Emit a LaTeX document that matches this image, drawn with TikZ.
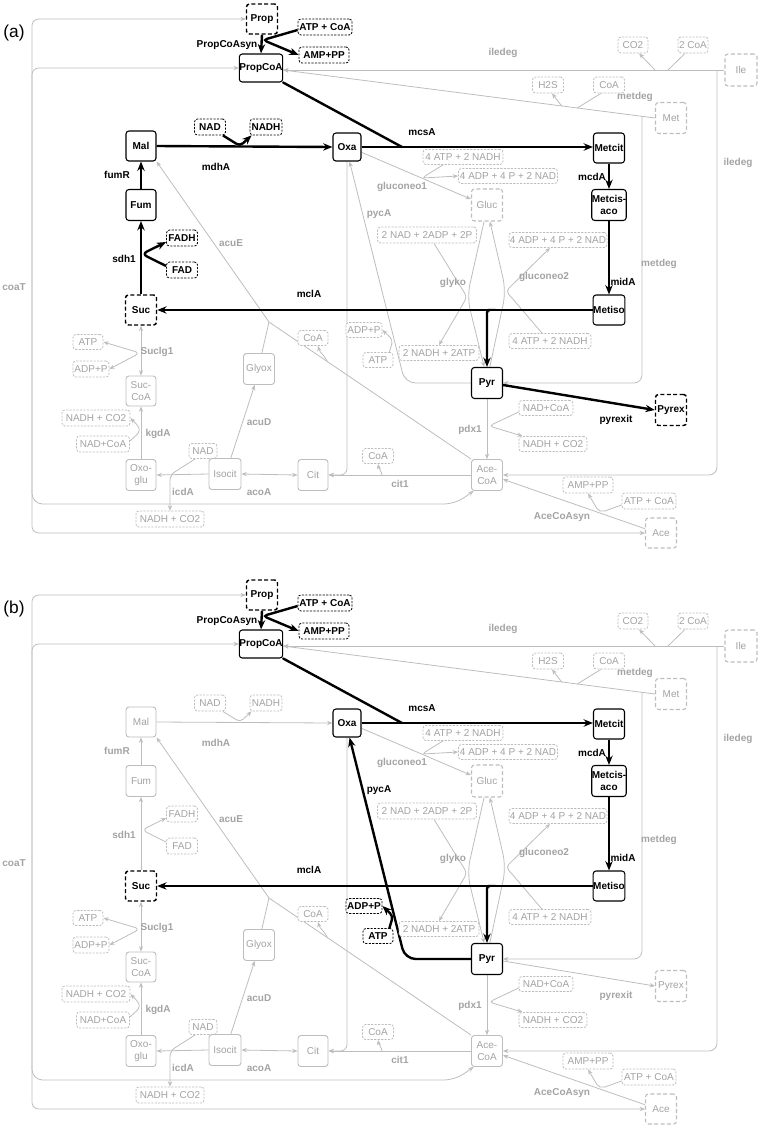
\documentclass[tikz,border=0pt]{standalone}
\usepackage{fontspec}
\setmainfont{Liberation Sans}
\usetikzlibrary{arrows.meta,calc}
\pgfdeclarelayer{bg}
\pgfsetlayers{bg,main}
\definecolor{lg}{HTML}{BDBDBD}
\definecolor{tg}{HTML}{A3A3A3}
\newcommand\myfs{\fontsize{7.5}{9}\selectfont}
\newif\ifhi
\tikzset{
 on/.code={\hitrue}, off/.code={\hifalse},
 sz/.style 2 args={minimum width=#1*0.75pt, minimum height=#2*0.75pt},
 bx/.style={rectangle, rounded corners=2.2pt, inner sep=0pt, fill=white, align=center},
 met/.code={\pgfkeysalso{bx}\ifhi\pgfkeysalso{draw=black,line width=0.8pt,text=black,font=\myfs\bfseries}\else\pgfkeysalso{draw=lg,line width=0.7pt,text=tg,font=\myfs}\fi},
 metd/.code={\pgfkeysalso{bx,dash pattern=on 3pt off 1.8pt}\ifhi\pgfkeysalso{draw=black,line width=1.1pt,text=black,font=\myfs\bfseries}\else\pgfkeysalso{draw=lg,line width=0.8pt,text=tg,font=\myfs}\fi},
 cof/.code={\pgfkeysalso{bx,dash pattern=on 1.6pt off 1pt}\ifhi\pgfkeysalso{draw=black,line width=0.6pt,text=black,font=\myfs\bfseries}\else\pgfkeysalso{draw=lg,line width=0.6pt,text=tg,font=\myfs}\fi},
 ln/.code={\ifhi\pgfkeysalso{draw=black,line width=1.8pt}\else\pgfkeysalso{draw=lg,line width=0.6pt}\fi},
 ar/.code={\ifhi\pgfkeysalso{-{Stealth[length=7pt,width=5.5pt]}}\else\pgfkeysalso{-{Stealth[length=4pt,width=3.2pt]}}\fi},
 ar2/.code={\ifhi\pgfkeysalso{{Stealth[length=7pt,width=5.5pt]}-{Stealth[length=7pt,width=5.5pt]}}\else\pgfkeysalso{{Stealth[length=4pt,width=3.2pt]}-{Stealth[length=4pt,width=3.2pt]}}\fi},
 lb/.code={\pgfkeysalso{inner sep=0pt}\ifhi\pgfkeysalso{text=black,font=\myfs\bfseries}\else\pgfkeysalso{text=tg,font=\myfs\bfseries}\fi},
}
\newcommand\drawpanel{%
% ---- nodes
\node[on,metd,sz={31}{30}] (Prop) at (262,19) {Prop};
\node[on,cof,sz={54}{16}] (PATP) at (325,27) {ATP + CoA};
\node[on,cof,sz={50}{16}] (PAMP) at (324,55) {AMP+PP};
\node[on,met,sz={41}{28}] (PropCoA) at (261,68) {PropCoA};
\node[gmdh,met,sz={30}{30}] (Mal) at (141,146) {Mal};
\node[gmdh,cof,sz={31}{16}] (NADm) at (210,127) {NAD};
\node[gmdh,cof,sz={32}{16}] (NADHm) at (266,127) {NADH};
\node[on,met,sz={28}{28}] (Oxa) at (347,147) {Oxa};
\node[on,met,sz={31}{30}] (Metcit) at (609,148) {Metcit};
\node[on,met,sz={31}{31}] (Metcis) at (609,205) {Metcis-\\aco};
\node[on,met,sz={31}{30}] (Metiso) at (609,310) {Metiso};
\node[gfum,met,sz={30}{31}] (Fum) at (141,205) {Fum};
\node[gsdh,cof,sz={31}{16}] (FADH) at (182,238) {FADH};
\node[gsdh,cof,sz={31}{16}] (FAD) at (182,270) {FAD};
\node[on,metd,sz={31}{30}] (Suc) at (141,310) {Suc};
\node[on,met,sz={31}{31}] (Pyr) at (487,383) {Pyr};
\node[gpyrex,metd,sz={31}{31}] (Pyrex) at (671,410) {Pyrex};
\node[gpyc,cof,sz={30}{15}] (ATPp) at (378,360) {ATP};
\node[gpyc,cof,sz={36}{15}] (ADPp) at (364,330) {ADP+P};
\node[off,cof,sz={30}{16}] (CO2) at (633,45) {CO2};
\node[off,cof,sz={30}{16}] (CoA2) at (693,45) {2 CoA};
\node[off,metd,sz={32}{32}] (Ile) at (741,70) {Ile};
\node[off,cof,sz={31}{16}] (H2S) at (548,85) {H2S};
\node[off,cof,sz={31}{16}] (CoAm) at (609,85) {CoA};
\node[off,metd,sz={31}{31}] (Met) at (671,118) {Met};
\node[off,cof,sz={80}{15}] (ATPg1) at (463,157) {4 ATP + 2 NADH};
\node[off,cof,sz={99}{15}] (ADPg1) at (508,176) {4 ADP + 4 P + 2 NAD};
\node[off,metd,sz={31}{32}] (Gluc) at (487,205) {Gluc};
\node[off,cof,sz={99}{16}] (NADgl) at (427,235) {2 NAD + 2ADP + 2P};
\node[off,cof,sz={98}{15}] (ADPg2) at (558,240) {4 ADP + 4 P + 2 NAD};
\node[off,cof,sz={82}{15}] (ATPg2) at (550,341) {4 ATP + 2 NADH};
\node[off,cof,sz={80}{15}] (NADHgl) at (439,353) {2 NADH + 2ATP};
\node[off,cof,sz={30}{15}] (CoAe) at (313,338) {CoA};
\node[off,cof,sz={30}{15}] (ATPs) at (88,342) {ATP};
\node[off,cof,sz={36}{16}] (ADPs) at (91,369) {ADP+P};
\node[off,met,sz={30}{30}] (SucCoA) at (141,391) {Suc-\\CoA};
\node[off,cof,sz={68}{16}] (NADHk) at (96,418) {NADH + CO2};
\node[off,cof,sz={53}{16}] (NADk) at (103,444) {NAD+CoA};
\node[off,met,sz={30}{31}] (Oxoglu) at (141,475) {Oxo-\\glu};
\node[off,cof,sz={28}{15}] (NADi) at (203,451) {NAD};
\node[off,met,sz={32}{31}] (Isocit) at (225,474) {Isocit};
\node[off,cof,sz={68}{16}] (NADHi) at (170,519) {NADH + CO2};
\node[off,met,sz={31}{31}] (Glyox) at (259,369) {Glyox};
\node[off,met,sz={30}{31}] (Cit) at (313,475) {Cit};
\node[off,cof,sz={31}{15}] (CoAc) at (378,456) {CoA};
\node[off,cof,sz={54}{15}] (NADp) at (546,408) {NAD+CoA};
\node[off,cof,sz={68}{15}] (NADHp) at (553,444) {NADH + CO2};
\node[off,met,sz={31}{31}] (AceCoA) at (487,475) {Ace-\\CoA};
\node[off,cof,sz={50}{16}] (AMPa) at (588,485) {AMP+PP};
\node[off,cof,sz={54}{16}] (ATPa) at (649,501) {ATP + CoA};
\node[off,metd,sz={31}{30}] (Ace) at (661,533) {Ace};
% ---- reaction labels
\node[on,lb] (lPCS) at (227,45) {PropCoAsyn};
\node[off,lb] (lIL1) at (503,53) {iledeg};
\node[off,lb] (lIL2) at (738,163) {iledeg};
\node[off,lb] (lMD1) at (635,97) {metdeg};
\node[off,lb] (lMD2) at (659,264) {metdeg};
\node[on,lb] (lMCS) at (422,132) {mcsA};
\node[gmdh,lb] (lMDH) at (216,167) {mdhA};
\node[gfum,lb] (lFUM) at (117,175) {fumR};
\node[off,lb] (lGN1) at (402,187) {gluconeo1};
\node[on,lb] (lMCD) at (592,177) {mcdA};
\node[gpyc,lb] (lPYC) at (379,214) {pycA};
\node[off,lb] (lACE) at (231,243) {acuE};
\node[gsdh,lb] (lSDH) at (124,259) {sdh1};
\node[off,lb] (lGN2) at (544,277) {gluconeo2};
\node[off,lb] (lGLY) at (453,283) {glyko};
\node[on,lb] (lMID) at (623,282) {midA};
\node[off,lb] (lCOT) at (14,287) {coaT};
\node[on,lb] (lMCL) at (309,294) {mclA};
\node[off,lb] (lSUC) at (157,352) {Suclg1};
\node[gpyrex,lb] (lPYX) at (616,420) {pyrexit};
\node[off,lb] (lPDX) at (470,430) {pdx1};
\node[off,lb] (lACD) at (259,422) {acuD};
\node[off,lb] (lKGD) at (158,434) {kgdA};
\node[off,lb] (lCIT) at (400,484) {cit1};
\node[off,lb] (lICD) at (183,492) {icdA};
\node[off,lb] (lACO) at (259,492) {acoA};
\node[off,lb] (lACS) at (562,517) {AceCoAsyn};
% ---- junction coordinates
\coordinate (hubT) at (32,287);
\coordinate (cT4) at (455,504);
\coordinate (jIL) at (717,70);
\coordinate (jIL2) at (668,70);
\coordinate (jIL1) at (655,70);
\coordinate (pcaR) at ($(PropCoA.east)+(0,2)$);
\coordinate (jM1) at ($(Met.west)!0.251!(pcaR)$);
\coordinate (jM2) at ($(Met.west)!0.209!(pcaR)$);
\coordinate (jM3) at ($(Met.west)!0.035!(pcaR)$);
\coordinate (jPCS) at (263,40);
\coordinate (jMCS) at (402,147);
\coordinate (jMCL) at (487,310);
\coordinate (jMDH) at (240,146);
\coordinate (jSDH) at (142,254);
\coordinate (cPYC) at (405,383);
\coordinate (jPYC) at (393,340);
\coordinate (jCIT) at (347,475);
\coordinate (jCoAc) at (382,475);
\coordinate (jPDX) at (489,426);
\coordinate (jACS) at ($(Ace.165)!0.32!(AceCoA.-15)$);
\coordinate (jACE) at (269,322);
\coordinate (jCoAe) at ($(jACE)!0.29!(AceCoA.north west)$);
\coordinate (jICD) at (170,475);
\coordinate (jKGD) at (142,430);
\coordinate (jSUC) at (140,353);
\coordinate (jGN1) at ($(Oxa.-20)!0.55!(Gluc.160)$);
\coordinate (jGLY) at (467,297);
\coordinate (jGNE) at (506,291);
% ---- connectors
\begin{pgfonlayer}{bg}
% coaT
\draw[off,ln,ar,rounded corners=5pt] (hubT) |- (Prop.west);
\draw[off,ln,ar,rounded corners=5pt] (hubT) |- (PropCoA.west);
\draw[off,ln,ar,rounded corners=5pt] (hubT) |- (Ace.west);
\draw[off,ln,ar,rounded corners=8pt] (hubT) |- (cT4) -- (AceCoA.-130);
% iledeg
\draw[off,ln,ar] (Ile.west) -- (PropCoA.east |- Ile.west);
\draw[off,ln,ar,rounded corners=6pt] (jIL) |- (AceCoA.east);
\draw[off,ln] ($(CoA2.south)+(-8,0)$) -- (jIL2);
\draw[off,ln,ar,rounded corners=3pt] (jIL1) -- ($(CO2.south)+(6,0)$);
% metdeg
\draw[off,ln,ar] (Met.west) -- (pcaR);
\draw[off,ln,ar] (jM1) -- ($(H2S.south)+(4,0)$);
\draw[off,ln] ($(CoAm.south)+(-8,0)$) -- (jM2);
\draw[off,ln,ar,rounded corners=6pt] (jM3) |- (Pyr.east);
% gluconeo1
\draw[off,ln,ar] (Oxa.-20) -- (Gluc.160);
\draw[off,ln,ar,rounded corners=3pt] ($(ATPg1.south)+(-20,0)$) -- (jGN1) -- (ADPg1.west);
% glyko
\draw[off,ln,ar,rounded corners=10pt] (Gluc.-100) -- (jGLY) -- (Pyr.100);
\draw[off,ln,ar,rounded corners=3pt] ($(NADgl.south)+(7,0)$) -- (jGLY) -- (NADHgl.north);
% gluconeo2
\draw[off,ln,ar,rounded corners=10pt] (Pyr.80) -- (jGNE) -- (Gluc.-80);
\draw[off,ln,ar,rounded corners=3pt] ($(ATPg2.north)+(-8,0)$) -- (jGNE) -- ($(ADPg2.south)+(-8,0)$);
% acuE
\draw[off,ln,ar] (AceCoA.north west) -- (jACE) -- (Mal.south east);
\draw[off,ln] (Glyox.80) -- (jACE);
\draw[off,ln,ar] (jCoAe) to[out=115,in=-75] ($(CoAe.south)+(5,0)$);
% acuD, acoA, icdA
\draw[off,ln,ar] (Isocit.70) -- (Glyox.-105);
\draw[off,ln,ar2] (Isocit.east) -- (Cit.west);
\draw[off,ln,ar] (Isocit.west) -- (Oxoglu.east);
\draw[off,ln,ar,rounded corners=4pt] (NADi.-135) -- (jICD) -- (NADHi.north);
% kgdA
\draw[off,ln,ar] (Oxoglu.north) -- (SucCoA.south);
\draw[off,ln,ar,rounded corners=5pt] ($(NADk.east)+(0,-3)$) -- (jKGD) -- (NADHk.east);
% Suclg1
\draw[off,ln,ar2] (SucCoA.north) -- (Suc.south);
\draw[off,ln,ar2,rounded corners=4pt] (ATPs.east) -- (jSUC) -- (ADPs.east);
% cit1
\draw[off,ln,ar] (AceCoA.west) -- (Cit.east);
\draw[off,ln,ar,rounded corners=5pt] (Oxa.south) -- (jCIT) -- (Cit.east);
\draw[off,ln,ar] (jCoAc) to[out=100,in=-80] (CoAc.south);
% pdx1
\draw[off,ln,ar] (Pyr.south) -- (AceCoA.north);
\draw[off,ln,ar,rounded corners=3pt] ($(NADp.west)+(0,4)$) -- (jPDX) -- ($(NADHp.north west)+(4,0)$);
% AceCoAsyn
\draw[off,ln,ar] (Ace.165) -- (AceCoA.-15);
\draw[off,ln,ar,rounded corners=4pt] ($(ATPa.west)+(0,4)$) -- (jACS) -- (AMPa.south);
% pycA
\draw[gpyc,ln,ar,rounded corners=8pt] (Pyr.west) -- (cPYC) -- (Oxa.-80);
\draw[gpyc,ln,ar,rounded corners=3pt] ($(ATPp.north east)+(-4,0)$) -- (jPYC) -- (ADPp.east);
% mdhA, fumR, sdh1, pyrexit
\draw[gmdh,ln,ar] (Mal.east) -- (Oxa.west);
\draw[gmdh,ln,ar,rounded corners=3pt] ($(NADm.south east)+(-3,0)$) -- (jMDH) -- ($(NADHm.south west)+(2,0)$);
\draw[gfum,ln,ar] (Fum.north) -- (Mal.south);
\draw[gsdh,ln,ar] (Suc.north) -- (Fum.south);
\draw[gsdh,ln,ar,rounded corners=4pt] ($(FAD.west)+(0,-4)$) -- (jSDH) -- ($(FADH.west)+(0,4)$);
\draw[gpyrex,ln,ar] ($(Pyr.east)+(0,2)$) -- (Pyrex.west);
% PropCoAsyn
\draw[on,ln,ar] (Prop.south) -- (PropCoA.north);
\draw[on,ln,ar,rounded corners=3pt] ($(PATP.west)+(0,3)$) -- (jPCS) -- (PAMP.west);
% mcsA
\draw[on,ln,ar] (Oxa.east) -- (Metcit.west |- Oxa.east);
\draw[on,ln,line cap=round] (PropCoA.south east) -- (jMCS);
% mcdA, midA
\draw[on,ln,ar] (Metcit.south) -- (Metcis.north);
\draw[on,ln,ar] (Metcis.south) -- (Metiso.north);
% mclA
\draw[on,ln,ar] (Metiso.west) -- (Suc.east);
\draw[on,ln,ar,rounded corners=2pt] ($(jMCL)+(1,0)$) -- (jMCL) -- (Pyr.north);
\end{pgfonlayer}
}
\begin{document}
\begin{tikzpicture}[x=0.75pt,y=-0.75pt]
\useasboundingbox (0,0) rectangle (761,1128);
\node[font=\fontsize{13}{15}\selectfont, inner sep=0pt] (pa) at (14,33) {(a)};
\begin{scope}[name prefix=a-, gmdh/.style={on}, gfum/.style={on}, gsdh/.style={on}, gpyrex/.style={on}, gpyc/.style={off}]
\drawpanel
\end{scope}
\node[font=\fontsize{13}{15}\selectfont, inner sep=0pt] (pb) at (14,609) {(b)};
\begin{scope}[shift={(0,576)}, name prefix=b-, gmdh/.style={off}, gfum/.style={off}, gsdh/.style={off}, gpyrex/.style={off}, gpyc/.style={on}]
\drawpanel
\end{scope}
\end{tikzpicture}
\end{document}
